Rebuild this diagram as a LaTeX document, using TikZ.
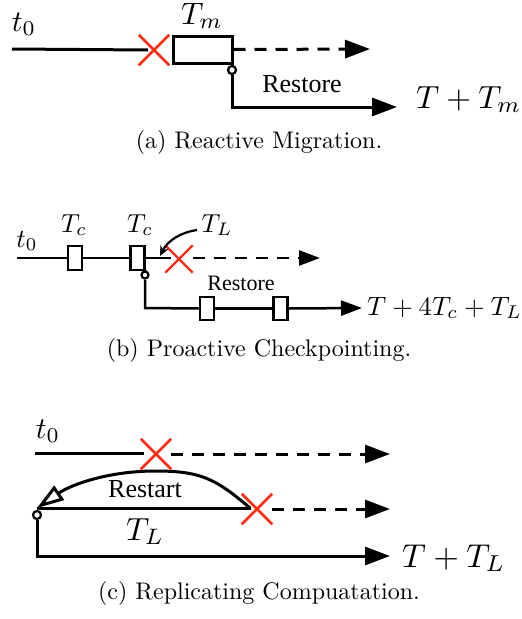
\documentclass[tikz,border=0pt]{standalone}
\usepackage{fontspec}
\newfontfamily\timesfont{Liberation Serif}
\usetikzlibrary{arrows.meta,shapes.misc,calc}
\definecolor{failred}{RGB}{250,45,20}

\begin{document}
\begin{tikzpicture}[x=1pt,y=-1pt,
  line/.style={line width=3pt},
  thinline/.style={line width=2.5pt},
  dashline/.style={dash pattern=on 12pt off 9pt},
  bigtip/.style={-{Triangle[length=25pt,width=18pt]}},
  smalltip/.style={-{Triangle[length=21pt,width=15pt]}},
  fail/.style={cross out, draw=failred, line width=2.5pt, minimum size=28pt, inner sep=0pt},
  tbox/.style={draw, fill=white, inner sep=0pt},
  joint/.style={circle, draw, fill=white, line width=2.2pt, inner sep=0pt, minimum size=8pt},
  lbl/.style={inner sep=0pt, anchor=base},
  rlbl/.style={inner sep=0pt, anchor=base west},
]
\useasboundingbox (0,0) rectangle (522,619);

% ---------- (a) reactive migration ----------
\node[lbl] (at0) at (24,31) {\scalebox{3.0}{$t_0$}};
\node[lbl] (atm) at (202,24) {\scalebox{3.1}{$T_m$}};
\coordinate (as) at (12,49);
\node[fail] (ax) at (154,50) {};
\node[tbox, line width=3pt, minimum width=59pt, minimum height=27pt] (ab) at (202.5,49.5) {};
\coordinate (ae) at (370,49);
\node[joint] (ac) at (232,70) {};
\coordinate (ad) at (232,107);
\coordinate (af) at (397,107);
\draw[line] (as) -- ($(ax.center)+(-6,0)$);
\draw[line, dashline, bigtip] (ab.east) -- (ae);
\draw[line] (ab.south east) -- (ac.north);
\draw[line, bigtip] (ac.south) -- (ad) -- (af);
\node[lbl] (ar) at (302,92) {\timesfont\fontsize{26}{30}\selectfont Restore};
\node[rlbl] (aT) at (416,108) {\scalebox{3.2}{$T+T_m$}};
\node[lbl] (acap) at (259,148) {\scalebox{2.4}{(a) Reactive Migration.}};

% ---------- (b) proactive checkpointing ----------
\node[lbl] (bt0) at (27,247) {\scalebox{2.6}{$t_0$}};
\node[lbl] (btc1) at (74,232) {\scalebox{2.6}{$T_c$}};
\node[lbl] (btc2) at (140,232) {\scalebox{2.6}{$T_c$}};
\node[lbl] (btl) at (217,232) {\scalebox{2.6}{$T_L$}};
\coordinate (bs) at (17,258);
\node[tbox, line width=2.5pt, minimum width=14pt, minimum height=24pt] (b1) at (75,258) {};
\node[tbox, line width=2.5pt, minimum width=14pt, minimum height=24pt] (b2) at (137.5,258) {};
\node[fail, minimum size=25pt, line width=2.3pt] (bx) at (179,259) {};
\coordinate (be) at (320,258);
\draw[thinline] (bs) -- (b1.west);
\draw[thinline] (b1.east) -- (b2.west);
\draw[thinline] (b2.east) -- ($(bx.center)+(-8,-1)$);
\draw[thinline, dashline, smalltip] (bx.east |- be) -- (be);
\coordinate (bq) at (197,230);
\coordinate (bp) at (160,256);
\draw[line width=2.2pt, -{Stealth[length=10pt,width=9pt]}] (bq) .. controls (182,232) and (168,240) .. (bp);
\node[joint, minimum size=7pt] (bc) at (145,275) {};
\coordinate (bd) at (145,308);
\coordinate (bf) at (362,308);
\node[tbox, line width=2.5pt, minimum width=14pt, minimum height=23pt] (b3) at (207,308.5) {};
\node[tbox, line width=2.5pt, minimum width=14pt, minimum height=23pt] (b4) at (280.5,308.5) {};
\draw[thinline] (b2.south east) -- (bc.north);
\draw[thinline] (bc.south) -- (bd) -- (b3.west);
\draw[thinline] (b3.east) -- (b4.west);
\draw[thinline, smalltip] (b4.east) -- (bf);
\node[lbl] (br) at (241,290) {\timesfont\fontsize{22}{26}\selectfont Restore};
\node[rlbl] (bT) at (367,315) {\scalebox{2.65}{$T+4T_c+T_L$}};
\node[lbl] (bcap) at (259,356) {\scalebox{2.4}{(b) Proactive Checkpointing.}};

% ---------- (c) replicating computation ----------
\node[lbl] (ct0) at (48,438) {\scalebox{3.0}{$t_0$}};
\coordinate (cs) at (35,453);
\node[fail] (cx1) at (156,454) {};
\coordinate (ce1) at (390,454);
\draw[line] (cs) -- ($(cx1.center)+(-12,-1)$);
\draw[line, dashline, bigtip] (cx1.east |- ce1) -- (ce1);
\coordinate (cl) at (37,508);
\node[fail] (cx2) at (257,509) {};
\coordinate (ce2) at (390,509);
\draw[line] (cl) -- ($(cx2.center)+(-6,-1)$);
\draw[line, dashline, bigtip] (cx2.east |- ce2) -- (ce2);
\draw[line, -{Triangle[open, fill=white, length=27pt, width=17pt]}]
  ($(cx2.center)+(-7,-1)$) .. controls (215,478) and (200,471) .. (155,471)
  .. controls (110,471) and (72,484) .. (cl);
\node[lbl] (crs) at (145,497) {\timesfont\fontsize{26}{30}\selectfont Restart};
\node[lbl] (ctl) at (145,540) {\scalebox{3.2}{$T_L$}};
\node[joint] (cc) at (37,515) {};
\coordinate (cd) at (37,556);
\coordinate (cf) at (390,556);
\draw[line, bigtip] (cc.south) -- (cd) -- (cf);
\node[rlbl] (cT) at (402,567) {\scalebox{3.3}{$T+T_L$}};
\node[lbl] (ccap) at (259,599) {\scalebox{2.4}{(c) Replicating Compuatation.}};
\end{tikzpicture}
\end{document}
